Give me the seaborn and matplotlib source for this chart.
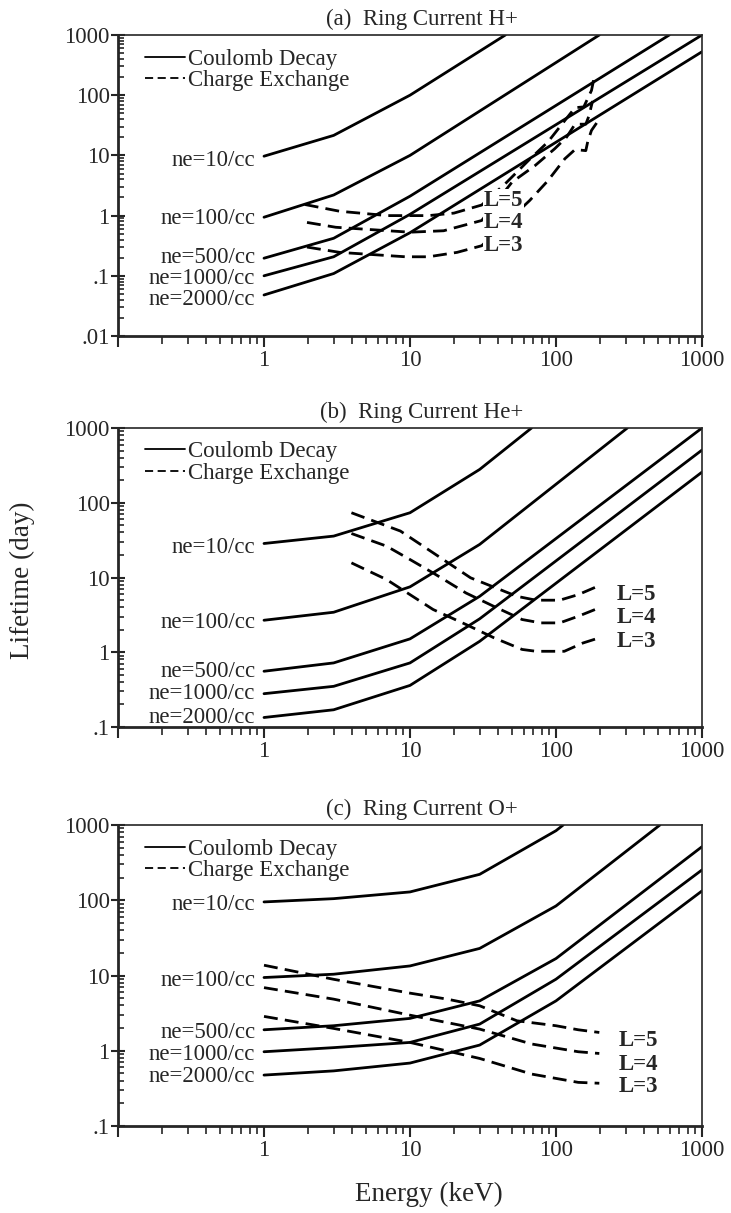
import matplotlib
matplotlib.use("Agg")
import matplotlib.pyplot as plt
import seaborn as sns
from matplotlib.lines import Line2D
from matplotlib.ticker import LogLocator, NullFormatter

# ---- panel (a) Ring Current H+ ----
a_ne10_E = [1, 3, 10, 45]
a_ne10_T = [9.7, 21.5, 100, 1000]
a_ne100_E = [1, 3, 10, 198]
a_ne100_T = [0.94, 2.2, 10, 1000]
a_ne500_E = [1, 3, 10, 597]
a_ne500_T = [0.196, 0.42, 2.1, 1000]
a_ne1000_E = [1, 3, 10, 1000]
a_ne1000_T = [0.1, 0.207, 1.05, 1000]
a_ne2000_E = [1, 3, 10, 1000]
a_ne2000_T = [0.048, 0.109, 0.52, 527]

a_L5_E = [1.9, 3.3, 7, 13.4, 20, 31, 45, 65, 88, 115, 135, 155, 175, 182]
a_L5_T = [1.53, 1.18, 1.0, 1.0, 1.1, 1.5, 3.4, 8.3, 16.7, 38, 62, 64, 120, 190]
a_L4_E = [1.97, 3.1, 10, 17, 31, 50, 72, 98, 118, 135, 160, 168, 178]
a_L4_T = [0.77, 0.64, 0.53, 0.56, 0.83, 3.6, 6.8, 12.9, 20, 33, 33, 45, 80]
a_L3_E = [1.97, 3.3, 9.3, 13.4, 21, 31, 66, 88, 115, 135, 160, 165, 175, 195]
a_L3_T = [0.30, 0.245, 0.207, 0.207, 0.245, 0.316, 1.78, 3.8, 8.8, 12.5, 12, 17, 26, 38]

# ---- panel (b) Ring Current He+ ----
b_ne10_E = [1, 3, 10, 30, 68]
b_ne10_T = [28.5, 35.8, 73.5, 279, 1000]
b_ne100_E = [1, 3, 10, 30, 308]
b_ne100_T = [2.68, 3.43, 7.5, 27.7, 1000]
b_ne500_E = [1, 3, 10, 30, 1000]
b_ne500_T = [0.557, 0.72, 1.51, 5.6, 1000]
b_ne1000_E = [1, 3, 10, 30, 1000]
b_ne1000_T = [0.279, 0.35, 0.72, 2.8, 507]
b_ne2000_E = [1, 3, 10, 30, 1000]
b_ne2000_T = [0.134, 0.17, 0.36, 1.4, 257]

b_L5_E = [3.97, 8.6, 14.4, 26, 54, 73, 106, 142, 198]
b_L5_T = [73.5, 41.8, 21.4, 9.9, 5.6, 4.97, 4.97, 5.9, 7.8]
b_L4_E = [3.97, 6.9, 10, 14.4, 24.2, 37.6, 58.6, 78.6, 106, 142, 198]
b_L4_T = [38.8, 26.3, 17.4, 11.5, 6.2, 4.1, 2.74, 2.47, 2.47, 3.03, 3.93]
b_L3_E = [3.97, 6.9, 10, 14.4, 24.2, 37.6, 58.6, 73, 114, 153, 198]
b_L3_T = [15.7, 9.4, 5.9, 3.73, 2.35, 1.56, 1.09, 1.03, 1.03, 1.33, 1.56]

# ---- panel (c) Ring Current O+ ----
c_ne10_E = [1, 3, 10, 30, 100, 112]
c_ne10_T = [95, 105, 129, 221, 840, 1000]
c_ne100_E = [1, 3, 10, 30, 100, 515]
c_ne100_T = [9.4, 10.4, 13.4, 22.9, 84, 1000]
c_ne500_E = [1, 3, 10, 30, 100, 1000]
c_ne500_T = [1.9, 2.15, 2.69, 4.6, 16.8, 515]
c_ne1000_E = [1, 3, 10, 30, 100, 1000]
c_ne1000_T = [0.97, 1.1, 1.29, 2.26, 8.93, 253]
c_ne2000_E = [1, 3, 10, 30, 100, 1000]
c_ne2000_T = [0.475, 0.54, 0.686, 1.19, 4.6, 133]

c_L5_E = [1, 3, 10, 18, 30, 54, 100, 142, 198]
c_L5_T = [13.7, 8.9, 5.83, 4.85, 3.96, 2.5, 2.15, 1.9, 1.75]
c_L4_E = [1, 3, 10, 30, 68, 142, 198]
c_L4_T = [6.9, 4.85, 2.97, 1.94, 1.23, 0.97, 0.92]
c_L3_E = [1, 3, 10, 30, 68, 142, 198]
c_L3_T = [2.86, 1.98, 1.29, 0.79, 0.49, 0.38, 0.37]

ne_names = ["ne=10/cc", "ne=100/cc", "ne=500/cc", "ne=1000/cc", "ne=2000/cc"]
L_names = ["L=5", "L=4", "L=3"]

# label heights
a_ne_label_T = [8.3, 0.88, 0.2, 0.091, 0.041]
b_ne_label_T = [25, 2.47, 0.56, 0.28, 0.135]
c_ne_label_T = [88.5, 8.5, 1.75, 0.9, 0.456]
a_L_label_T = [1.78, 0.77, 0.316]
b_L_label_T = [5.9, 2.88, 1.4]
c_L_label_T = [1.36, 0.665, 0.33]

panels = [
    {
        "title": "(a)  Ring Current H+",
        "coulomb": [(a_ne10_E, a_ne10_T), (a_ne100_E, a_ne100_T), (a_ne500_E, a_ne500_T),
                    (a_ne1000_E, a_ne1000_T), (a_ne2000_E, a_ne2000_T)],
        "cex": [(a_L5_E, a_L5_T), (a_L4_E, a_L4_T), (a_L3_E, a_L3_T)],
        "ne_y": a_ne_label_T, "L_y": a_L_label_T, "L_x": 32,
        "ylim": (0.01, 1000),
        "yticks": [0.01, 0.1, 1, 10, 100, 1000],
        "ylabels": [".01", ".1", "1", "10", "100", "1000"],
        "rect": [118 / 731, 1 - 336 / 1213, 584 / 731, 301 / 1213],
    },
    {
        "title": "(b)  Ring Current He+",
        "coulomb": [(b_ne10_E, b_ne10_T), (b_ne100_E, b_ne100_T), (b_ne500_E, b_ne500_T),
                    (b_ne1000_E, b_ne1000_T), (b_ne2000_E, b_ne2000_T)],
        "cex": [(b_L5_E, b_L5_T), (b_L4_E, b_L4_T), (b_L3_E, b_L3_T)],
        "ne_y": b_ne_label_T, "L_y": b_L_label_T, "L_x": 262,
        "ylim": (0.1, 1000),
        "yticks": [0.1, 1, 10, 100, 1000],
        "ylabels": [".1", "1", "10", "100", "1000"],
        "rect": [118 / 731, 1 - 727 / 1213, 584 / 731, 299 / 1213],
    },
    {
        "title": "(c)  Ring Current O+",
        "coulomb": [(c_ne10_E, c_ne10_T), (c_ne100_E, c_ne100_T), (c_ne500_E, c_ne500_T),
                    (c_ne1000_E, c_ne1000_T), (c_ne2000_E, c_ne2000_T)],
        "cex": [(c_L5_E, c_L5_T), (c_L4_E, c_L4_T), (c_L3_E, c_L3_T)],
        "ne_y": c_ne_label_T, "L_y": c_L_label_T, "L_x": 270,
        "ylim": (0.1, 1000),
        "yticks": [0.1, 1, 10, 100, 1000],
        "ylabels": [".1", "1", "10", "100", "1000"],
        "rect": [118 / 731, 1 - 1126 / 1213, 584 / 731, 301 / 1213],
    },
]

sns.set_style("ticks")
plt.rcParams["font.family"] = ["Liberation Serif", "DejaVu Serif"]

FS = 16.5
dash = (0, (5, 2.6))

fig = plt.figure(figsize=(7.31, 12.13), dpi=100)

for p in panels:
    ax = fig.add_axes(p["rect"])
    for E, T in p["coulomb"]:
        sns.lineplot(x=E, y=T, ax=ax, color="black", lw=2.0, sort=False,
                     estimator=None, legend=False)
    for E, T in p["cex"]:
        sns.lineplot(x=E, y=T, ax=ax, color="black", lw=2.0, sort=False,
                     estimator=None, legend=False, linestyle=dash)
    ax.set_xscale("log")
    ax.set_yscale("log")
    ax.set_xlim(0.1, 1000)
    ax.set_ylim(*p["ylim"])

    ax.set_xticks([0.1, 1, 10, 100, 1000])
    ax.set_xticklabels(["", "1", "10", "100", "1000"], fontsize=FS)
    ax.set_yticks(p["yticks"])
    ax.set_yticklabels(p["ylabels"], fontsize=FS)
    ax.xaxis.set_minor_locator(LogLocator(base=10, subs=range(2, 10), numticks=20))
    ax.yaxis.set_minor_locator(LogLocator(base=10, subs=range(2, 10), numticks=20))
    ax.xaxis.set_minor_formatter(NullFormatter())
    ax.yaxis.set_minor_formatter(NullFormatter())
    ax.tick_params(axis="x", which="major", direction="out", length=8, width=1.5, pad=2)
    ax.tick_params(axis="x", which="minor", direction="out", length=5.5, width=1.2)
    ax.tick_params(axis="y", which="major", direction="inout", length=10, width=1.5, pad=1)
    ax.tick_params(axis="y", which="minor", direction="in", length=4, width=1.2)
    ax.set_xlabel("")
    ax.set_ylabel("")

    for side in ["left", "bottom"]:
        ax.spines[side].set_linewidth(2.0)
    for side in ["top", "right"]:
        ax.spines[side].set_linewidth(1.2)

    ax.set_title(p["title"], x=0.52, pad=7, fontsize=FS)

    for name, y in zip(ne_names, p["ne_y"]):
        ax.text(0.87, y, name, ha="right", va="center", fontsize=FS)
    for name, y in zip(L_names, p["L_y"]):
        ax.text(p["L_x"], y, name, ha="left", va="center", fontsize=FS,
                fontweight="bold", zorder=5,
                bbox=dict(fc="white", ec="none", pad=0.6))

    handles = [Line2D([], [], color="black", lw=1.3),
               Line2D([], [], color="black", lw=1.3, linestyle=(0, (4.5, 2.5)))]
    ax.legend(handles, ["Coulomb Decay", "Charge Exchange"], loc="upper left",
              bbox_to_anchor=(0.046, 0.955), frameon=False, fontsize=FS,
              handlelength=1.75, handletextpad=0.15, labelspacing=0.02,
              borderpad=0, borderaxespad=0)

    last_ax = ax

last_ax.set_xlabel("Energy (keV)", fontsize=19.5)
last_ax.xaxis.set_label_coords(0.532, -0.185)
fig.text(0.031, 0.522, "Lifetime (day)", rotation=90, ha="center", va="center",
         fontsize=19.5)

fig.savefig("out.png", dpi=100)
